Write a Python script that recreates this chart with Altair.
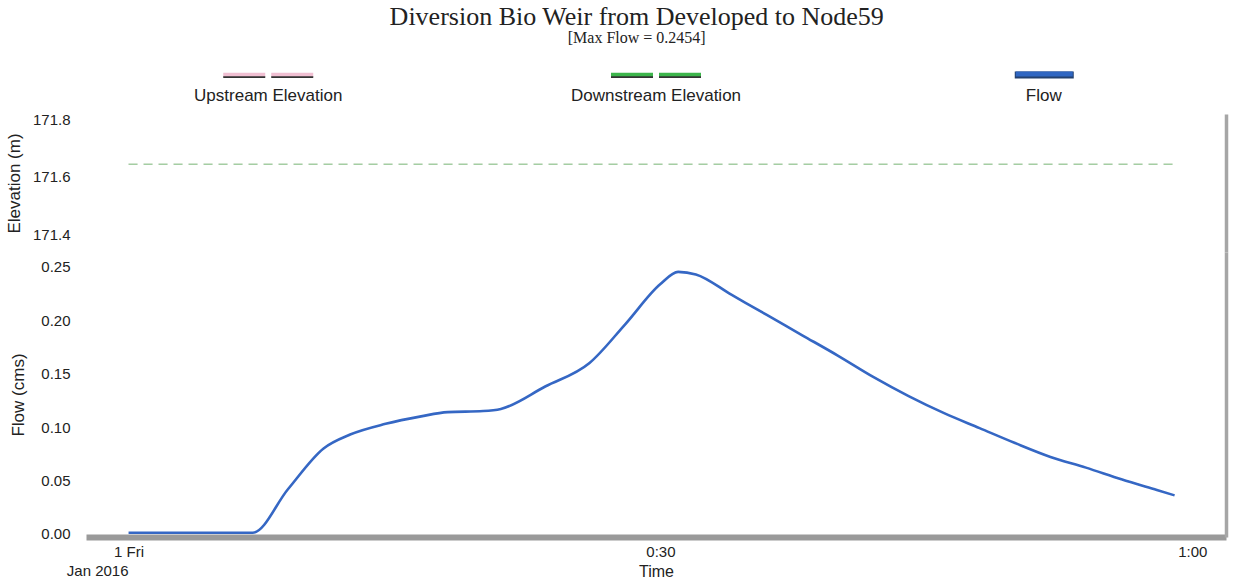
import altair as alt
import pandas as pd

# Flow hydrograph, minutes after 2016-01-01 00:00 -> flow (cms)
flow_minutes = [0, 7, 9, 11, 12.5, 14.5, 16.5, 18, 20, 21, 23.5, 26, 28, 30, 31,
                32, 34, 36, 38, 40, 42, 44, 46, 48, 50, 52, 54, 56, 58, 59]
flow_cms = [0.001, 0.001, 0.042, 0.080, 0.093, 0.103, 0.110, 0.114, 0.115, 0.117,
            0.138, 0.160, 0.196, 0.234, 0.2454,
            0.243, 0.224, 0.205, 0.186, 0.167, 0.147, 0.129, 0.113, 0.099, 0.085,
            0.072, 0.062, 0.051, 0.041, 0.036]

# Water surface elevations at both ends of the weir (m)
elev_minutes = [0, 15, 30, 45, 59]
upstream_elev = [171.644, 171.644, 171.644, 171.644, 171.644]
downstream_elev = [171.644, 171.644, 171.644, 171.644, 171.644]

series_names = ["Upstream Elevation", "Downstream Elevation", "Flow"]
series_colors = ["#f0bfd2", "#3db54c", "#2f66c2"]

y_elev_ticks = [171.4, 171.6, 171.8]
y_flow_ticks = [0.0, 0.05, 0.10, 0.15, 0.20, 0.25]
x_ticks = [0, 30, 60]
date_label = ["Jan 2016"]

W = 1140
FONT = "Liberation Sans"
INK = "#222222"
EDGE = "#a6a6a6"

flow_df = pd.DataFrame({"minute": flow_minutes, "flow": flow_cms})
elev_df = pd.DataFrame({
    "minute": elev_minutes + elev_minutes,
    "elev": upstream_elev + downstream_elev,
    "series": [series_names[0]] * len(elev_minutes) + [series_names[1]] * len(elev_minutes),
})
legend_df = pd.DataFrame({"series": series_names})
date_df = pd.DataFrame({"minute": [0], "label": date_label})

color = alt.Color("series:N", scale=alt.Scale(domain=series_names, range=series_colors), legend=None)
x_scale = alt.Scale(domain=[-2.4, 61.9], nice=False, zero=False)

# ---- legend row: swatch above each label ----
leg_x = alt.X("series:N", sort=series_names,
              scale=alt.Scale(type="point", padding=0.47), axis=None)
leg_x2 = alt.X2("series:N")
elev_only = alt.FieldOneOfPredicate(field="series", oneOf=series_names[:2])
flow_only = alt.FieldEqualPredicate(field="series", equal="Flow")

leg_base = alt.Chart(legend_df)
dash_shadow = [
    leg_base.transform_filter(elev_only)
    .mark_rule(strokeWidth=1.8, color="#333333", xOffset=a, x2Offset=b)
    .encode(x=leg_x, x2=leg_x2, y=alt.value(17))
    for a, b in [(-45, -3), (3, 45)]
]
dash_fill = [
    leg_base.transform_filter(elev_only)
    .mark_rule(strokeWidth=3.5, xOffset=a, x2Offset=b)
    .encode(x=leg_x, x2=leg_x2, y=alt.value(14.5), color=color)
    for a, b in [(-45, -3), (3, 45)]
]
flow_shadow = leg_base.transform_filter(flow_only).mark_rule(
    strokeWidth=7, color="#23406f", xOffset=-29, x2Offset=30
).encode(x=leg_x, x2=leg_x2, y=alt.value(15))
flow_fill = leg_base.transform_filter(flow_only).mark_rule(
    strokeWidth=5, xOffset=-28, x2Offset=29
).encode(x=leg_x, x2=leg_x2, y=alt.value(14), color=color)
leg_text = leg_base.mark_text(font=FONT, fontSize=17, color=INK, baseline="middle").encode(
    x=leg_x, y=alt.value(35.5), text="series:N"
)
legend = alt.layer(*dash_shadow, *dash_fill, flow_shadow, flow_fill, leg_text).properties(
    width=W, height=40
)

# ---- elevation panel ----
elev_scale = alt.Scale(domain=[171.337, 171.82], nice=False, zero=False)
elev_lines = alt.Chart(elev_df).mark_line(strokeWidth=1.6, strokeDash=[9, 6], opacity=0.45).encode(
    x=alt.X("minute:Q", scale=x_scale, axis=None),
    y=alt.Y("elev:Q", scale=elev_scale,
            axis=alt.Axis(values=y_elev_ticks, format=".1f", title="Elevation (m)",
                          domain=False, ticks=False, labelPadding=16, titlePadding=9)),
    color=color,
)
elev_edge = alt.Chart(elev_df).mark_line(opacity=0).encode(
    x=alt.X("minute:Q", scale=x_scale, axis=None),
    y=alt.Y("elev:Q", scale=elev_scale,
            axis=alt.Axis(orient="right", labels=False, ticks=False, title=None,
                          domainColor=EDGE, domainWidth=3.5)),
)
elev_panel = alt.layer(elev_lines, elev_edge).resolve_axis(y="independent").properties(
    width=W, height=138
)

# ---- flow panel ----
flow_scale = alt.Scale(domain=[-0.003, 0.264], nice=False, zero=False)
label_expr = (
    "datum.value == 0 ? '1 Fri' : "
    "floor(datum.value / 60) + ':' + (datum.value % 60 < 10 ? '0' : '') + (datum.value % 60)"
)
flow_x = alt.X("minute:Q", scale=x_scale,
               axis=alt.Axis(values=x_ticks, labelExpr=label_expr, title="Time",
                             domainColor="#9a9a9a", domainWidth=6, ticks=False,
                             labelPadding=7, titlePadding=4, titleFontSize=16))
flow_line = alt.Chart(flow_df).mark_line(color="#3567c4", strokeWidth=2.6,
                                         interpolate="monotone").encode(
    x=flow_x,
    y=alt.Y("flow:Q", scale=flow_scale,
            axis=alt.Axis(values=y_flow_ticks, format=".2f", title="Flow (cms)",
                          domain=False, ticks=False, labelPadding=16, titlePadding=13)),
)
flow_edge = alt.Chart(flow_df).mark_line(opacity=0).encode(
    x=alt.X("minute:Q", scale=x_scale),
    y=alt.Y("flow:Q", scale=flow_scale,
            axis=alt.Axis(orient="right", labels=False, ticks=False, title=None,
                          domainColor=EDGE, domainWidth=3.5)),
)
# second line of the first time label, ending at its tick
date_text = alt.Chart(date_df).mark_text(
    font=FONT, fontSize=15, color=INK, align="right", baseline="middle"
).encode(x=alt.X("minute:Q", scale=x_scale), y=alt.value(319), text="label:N")

flow_panel = alt.layer(flow_line, flow_edge, date_text).resolve_axis(y="independent").properties(
    width=W, height=285
)

plots = alt.vconcat(elev_panel, flow_panel, spacing=0)

chart = alt.vconcat(legend, plots, spacing=8).properties(
    title=alt.TitleParams(
        text="Diversion Bio Weir from Developed to Node59",
        subtitle="[Max Flow = 0.2454]",
        font="Liberation Serif", fontSize=26, fontWeight="normal", color=INK,
        subtitleFont="Liberation Serif", subtitleFontSize=16, subtitleColor=INK,
        subtitlePadding=0, anchor="middle", offset=14, dx=21,
    ),
    padding={"left": 5, "top": 4, "right": 5, "bottom": 0},
).configure_view(stroke=None).configure_axis(
    grid=False, labelFont=FONT, labelFontSize=15, labelColor=INK,
    titleFont=FONT, titleFontSize=17, titleColor=INK, titleFontWeight="normal",
)

chart.save("out.html", embed_options={"renderer": "svg", "actions": False})
